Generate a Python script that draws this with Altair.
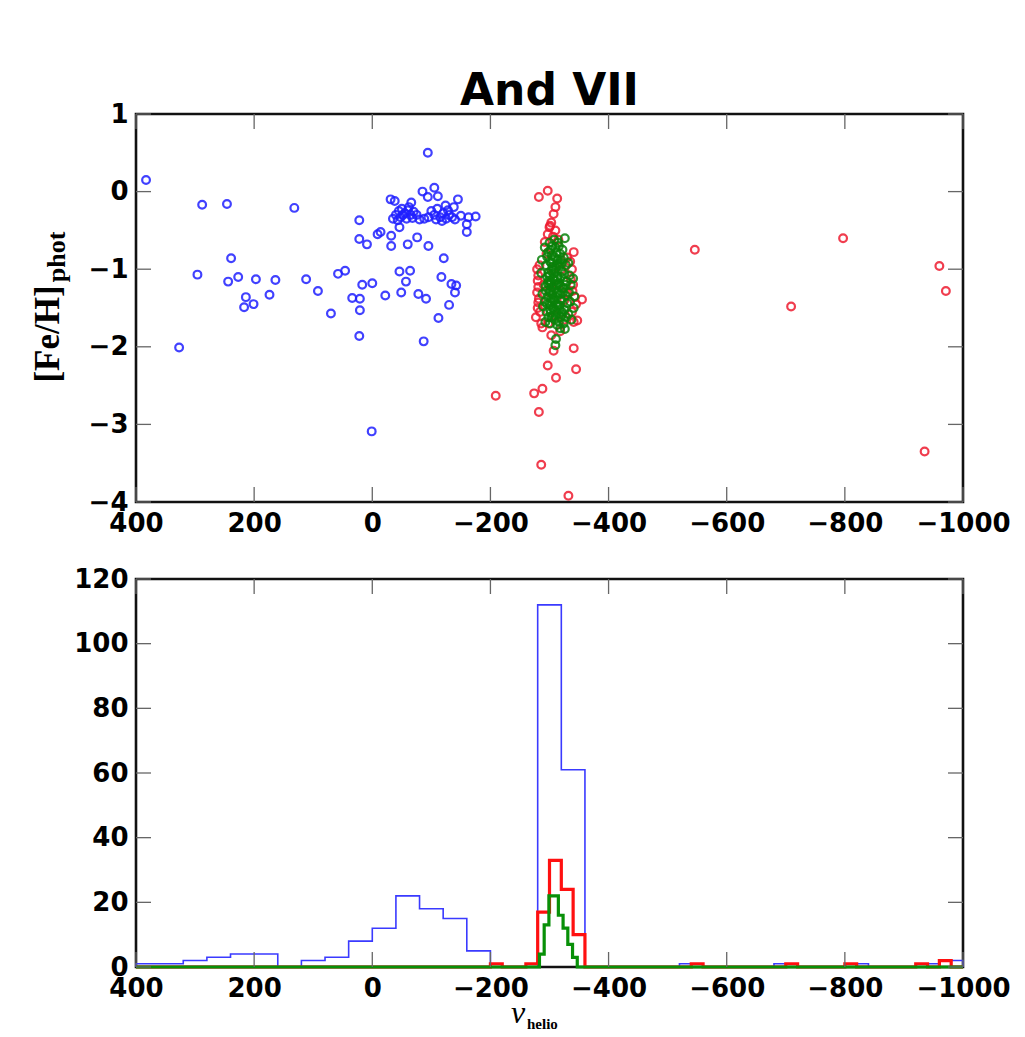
import altair as alt
import pandas as pd

# ---------------- scatter data: v_helio (km/s) and [Fe/H]_phot ----------------
blue_v = [383, 288, 246, 132, 239, 296, 244, 227, 197, 164, 214, 217, 201, 174, 327,
          112, 92, 70, 58, 46, 34, 21, 21, 22, 17, 0, -22, 22, 22, 9, -32, -32, -9, -14,
          1, -31, -38, -46, -49, -57, -43, -46, -60, -94, -85, -105, -111, -94, -145, -66,
          -163, -175, -160, -160, -76, -95, -121, -117, -134, -142, -140, -130, -112, -87,
          -64, -78, -91, -124, -138,
          -45, -50, -55, -60, -65, -70, -48, -58, -68, -75, -52, -62, -40, -80, -35,
          -100, -105, -110, -115, -120, -125, -130, -135, -140, -108, -118, -95, -88, -128, -150]
blue_fe = [0.15, -0.17, -0.16, -0.21, -0.86, -1.07, -1.16, -1.10, -1.13, -1.14, -1.36, -1.49, -1.45, -1.33, -2.01,
           -1.13, -1.28, -1.57, -1.06, -1.02, -1.37, -1.38, -1.53, -1.86, -1.20, -1.18, -1.34, -0.37, -0.61, -0.68, -0.57, -0.70, -0.55, -0.52,
           -3.09, -0.10, -0.12, -1.03, -1.30, -1.16, -0.37, -0.46, -0.68, 0.50, 0.00, 0.05, -0.06, -0.07, -0.10, -0.14,
           -0.33, -0.32, -0.42, -0.52, -0.59, -0.70, -0.86, -1.10, -1.19, -1.21, -1.30, -1.46, -1.63, -1.93,
           -1.02, -1.32, -1.38, -0.18, -0.20,
           -0.25, -0.22, -0.28, -0.24, -0.30, -0.26, -0.33, -0.35, -0.34, -0.30, -0.30, -0.20, -0.30, -0.36, -0.35,
           -0.25, -0.30, -0.22, -0.33, -0.28, -0.35, -0.30, -0.33, -0.36, -0.36, -0.38, -0.33, -0.35, -0.24, -0.31]

red_v = [-297, -282, -313, -310, -307, -301, -300, -303, -341, -355, -347, -341, -303, -341, -345,
         -297, -311, -288, -274, -209, -282, -286, -332, -546, -709, -797, -960, -971, -935, -307,
         -279, -281, -280, -281, -279, -282, -281, -280, -277, -286, -283, -284, -336, -339, -343,
         -338, -340, -345, -338, -335, -297, -306, -292, -315, -310, -295, -305, -315, -325, -300,
         -320, -310, -290, -330, -298, -318, -288, -330, -325]
red_fe = [0.01, -0.07, -0.09, -0.20, -0.29, -0.44, -0.46, -0.40, -0.78, -1.39, -1.66, -1.68, -1.85, -2.02, -2.29,
          -2.24, -2.40, -2.54, -2.60, -2.63, -2.84, -3.52, -3.92, -0.75, -1.48, -0.60, -0.96, -1.28, -3.35, -2.05,
          -1.00, -1.08, -1.15, -1.23, -1.30, -1.38, -1.43, -1.50, -1.62, -1.70, -0.95, -1.55, -1.13, -1.28, -1.36,
          -1.00, -1.20, -1.45, -1.55, -0.90, -0.55, -0.58, -0.65, -0.62, -0.50, -0.80, -1.00, -1.20, -1.40, -1.30,
          -1.00, -1.60, -1.20, -1.30, -1.70, -1.80, -1.75, -0.85, -1.65]

green_v = [-286, -288, -289, -287,
           -292, -294, -296, -293, -297, -295, -298, -292, -296, -294, -298, -293, -297,
           -300, -302, -304, -301, -305, -303, -300, -306, -302, -304, -301, -305, -303, -300, -306, -302, -304, -301, -305, -303, -306, -300,
           -308, -310, -312, -309, -313, -311, -308, -314, -310, -312, -309, -313, -311, -308, -314, -310, -312, -309, -313, -311, -314, -310,
           -316, -318, -320, -317, -321, -319, -316, -322, -318, -320, -317, -321, -319, -316, -322, -318,
           -326, -324, -328, -325, -329, -324, -327, -330, -325, -328, -326, -324,
           -332, -334, -336, -333, -335, -332, -337,
           -340, -342, -341,
           -298, -303, -308, -313, -318, -323, -296, -301, -307, -312,
           -317, -322, -299, -309, -319, -327, -304, -314, -321, -306]
green_fe = [-1.05, -1.32, -1.48, -0.88,
            -0.72, -0.95, -1.10, -1.22, -1.35, -1.55, -1.62, -1.42, -0.84, -1.28, -1.05, -1.68, -1.18,
            -0.66, -0.75, -0.82, -0.90, -0.97, -1.02, -1.08, -1.12, -1.17, -1.23, -1.28, -1.33, -1.38, -1.45, -1.50, -1.56, -1.62, -1.70, -0.70, -1.42, -0.88, -1.20,
            -0.62, -0.72, -0.78, -0.85, -0.93, -0.99, -1.05, -1.10, -1.15, -1.20, -1.26, -1.31, -1.36, -1.41, -1.47, -1.53, -1.58, -1.65, -1.72, -1.90, -0.66, -1.98,
            -0.70, -0.80, -0.88, -0.96, -1.03, -1.10, -1.18, -1.25, -1.32, -1.40, -1.47, -1.55, -1.62, -1.68, -0.75, -1.76,
            -0.60, -0.85, -0.95, -1.06, -1.16, -1.24, -1.34, -1.44, -1.52, -1.62, -1.77, -1.70,
            -0.92, -1.08, -1.20, -1.30, -1.42, -1.58, -1.65,
            -1.12, -1.35, -1.50,
            -0.78, -0.92, -1.00, -1.13, -1.22, -1.30, -1.45, -1.52, -1.38, -1.45,
            -1.52, -1.58, -1.15, -1.20, -1.38, -1.20, -1.30, -0.88, -0.92, -1.60]

# ---------------- histogram data (bin edges from left to right, counts per bin) ----------------
blue_edges = [400, 360, 320, 280, 240, 200, 160, 120, 80, 40, 0, -40, -80, -120, -160, -200,
              -240, -280, -320, -360, -400, -440, -480, -520, -560, -600, -640, -680, -720,
              -760, -800, -840, -880, -920, -960, -1000]
blue_counts = [1, 1, 2, 3, 4, 4, 0, 2, 3, 8, 12, 22, 18, 15, 5,
               0, 0, 112, 61, 0, 0, 0, 0, 1, 0, 0, 0, 1,
               0, 0, 1, 0, 0, 1, 2]
red_edges = [400, -200, -220, -260, -280, -300, -320, -340, -360, -540, -560, -700, -720,
             -800, -820, -920, -940, -960, -980, -1000]
red_counts = [0, 1, 0, 1, 17, 33, 24, 10, 0, 1, 0, 1, 0, 1, 0, 1, 0, 2, 0]
green_edges = [400, -283, -291, -299, -307, -315, -323, -331, -339, -347, -1000]
green_counts = [0, 4, 13, 22, 22, 16, 12, 7, 3, 0]

x_ticks = [400, 200, 0, -200, -400, -600, -800, -1000]
fe_ticks = [1, 0, -1, -2, -3, -4]
n_ticks = [0, 20, 40, 60, 80, 100, 120]

W, H = 827, 388
TL, TC, TW = 15, "#666666", 1.3

xscale = alt.Scale(domain=[-1000, 400], reverse=True, nice=False, zero=False)
xaxis = alt.Axis(values=x_ticks, format="d", title=None)
X = alt.X("v:Q", scale=xscale, axis=xaxis)
Yfe = alt.Y("fe:Q", scale=alt.Scale(domain=[-4, 1], nice=False, zero=False),
            axis=alt.Axis(values=fe_ticks, format="d", title=None))
Yn = alt.Y("n:Q", scale=alt.Scale(domain=[0, 120], nice=False, zero=False),
           axis=alt.Axis(values=n_ticks, format="d", title=None))


def pts(v, fe, color):
    df = pd.DataFrame({"v": v, "fe": fe})
    return alt.Chart(df).mark_point(shape="circle", filled=False, size=60, strokeWidth=2.2,
                                    color=color, opacity=0.85).encode(x=X, y=Yfe)


def step(edges, counts, color, width):
    xs = [edges[0]] + edges[:-1] + [edges[-1]]
    ys = [0] + counts + [0]
    df = pd.DataFrame({"v": xs, "n": ys, "i": list(range(len(xs)))})
    return alt.Chart(df).mark_line(interpolate="step-after", color=color, strokeWidth=width).encode(
        x=X, y=Yn, order="i:Q")


def frame_ticks(yenc, ycol, yvals):
    xt = pd.DataFrame({"v": x_ticks})
    yt = pd.DataFrame({ycol: yvals})
    r = dict(color=TC, strokeWidth=TW)
    return [
        alt.Chart(xt).mark_rule(**r).encode(x=X, y=alt.value(H), y2=alt.value(H - TL)),
        alt.Chart(xt).mark_rule(**r).encode(x=X, y=alt.value(0), y2=alt.value(TL)),
        alt.Chart(yt).mark_rule(**r).encode(y=yenc, x=alt.value(0), x2=alt.value(TL)),
        alt.Chart(yt).mark_rule(**r).encode(y=yenc, x=alt.value(W), x2=alt.value(W - TL)),
    ]


def label(text, x, y, **kw):
    return alt.Chart(pd.DataFrame({"t": [text]})).mark_text(color="black", **kw).encode(
        text="t:N", x=alt.value(x), y=alt.value(y))


title = label("And VII", W / 2, -9, align="center", baseline="alphabetic",
              font="DejaVu Sans", fontWeight="bold", fontSize=44)
ylab = label("[Fe/H]", -77, 220, angle=270, align="center", baseline="alphabetic",
             font="Liberation Serif", fontWeight="bold", fontSize=35)
ysub = label("phot", -71, 143, angle=270, align="center", baseline="alphabetic",
             font="Liberation Serif", fontWeight="bold", fontSize=26)
xlab = label("v", 382, 444, align="center", baseline="alphabetic",
             font="Liberation Serif", fontStyle="italic", fontSize=32)
xsub = label("helio", 391, 450, align="left", baseline="alphabetic",
             font="Liberation Serif", fontWeight="bold", fontSize=15)

top = alt.layer(
    pts(blue_v, blue_fe, "#2020ff"),
    pts(red_v, red_fe, "#ee1c30"),
    pts(green_v, green_fe, "#0a820a"),
    *frame_ticks(Yfe, "fe", fe_ticks),
    title, ylab, ysub,
).properties(width=W, height=H)

bottom = alt.layer(
    step(blue_edges, blue_counts, "#3a3aff", 1.6),
    step(red_edges, red_counts, "#ff1010", 3.2),
    step(green_edges, green_counts, "#089008", 3.2),
    *frame_ticks(Yn, "n", n_ticks),
    xlab, xsub,
).properties(width=W, height=H)

chart = alt.vconcat(top, bottom, spacing=77, bounds="flush").properties(
    padding={"left": 21, "top": 60, "right": 0, "bottom": 0}
).configure_view(stroke="#111111", strokeWidth=2.6).configure_axis(
    domain=False, ticks=False, tickSize=0, grid=False,
    labelFont="DejaVu Sans", labelFontWeight="bold", labelFontSize=26, labelColor="black",
    labelPadding=8, labelOverlap=False, labelFlush=False, labelBound=False,
)

chart.save("out.html", embed_options={"renderer": "svg", "actions": False})
